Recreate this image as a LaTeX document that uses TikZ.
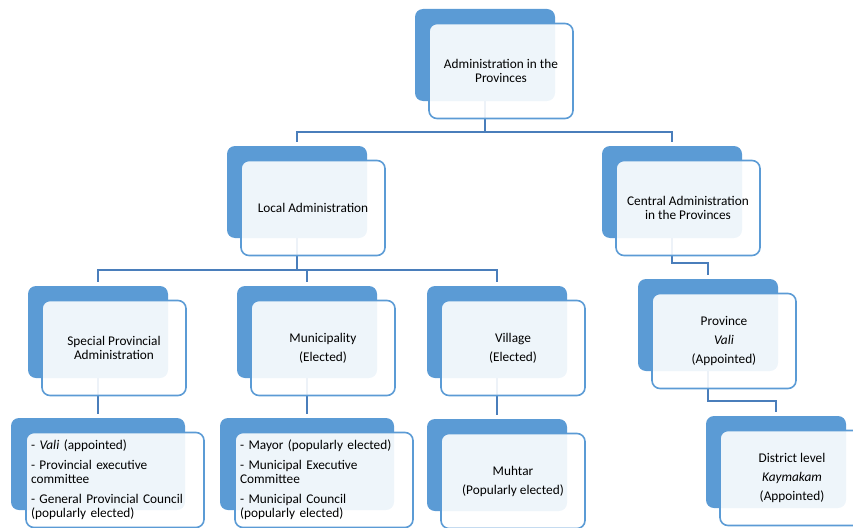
\documentclass[tikz,border=0pt]{standalone}
\usepackage{fontspec}
\setmainfont{Carlito}
\usetikzlibrary{backgrounds}
\definecolor{boxblue}{HTML}{5B9BD5}
\definecolor{linkblue}{HTML}{4A7EBB}
\begin{document}
\begin{tikzpicture}[x=1pt,y=-1pt,
  back/.style={fill=boxblue,rounded corners=8pt,minimum width=140pt,minimum height=92pt},
  front/.style={draw=boxblue,line width=1.6pt,fill=white,fill opacity=0.9,text opacity=1,
    rounded corners=8pt,minimum width=144pt,minimum height=95pt,align=center,
    font=\fontsize{13.3}{14}\selectfont},
  wide/.style={minimum width=174pt},
  widefront/.style={minimum width=178pt,text width=168pt,align=left},
  link/.style={draw=linkblue,line width=1.6pt,shorten >=4pt}]

\useasboundingbox (0,0) rectangle (853,527);

% top
\node[back] (adminB) at (485,55) {};
\node[front] (admin) at ([shift={(16,16)}]adminB) {Administration in the\\Provinces};

% second row
\node[back] (localB) at (297,192) {};
\node[front] (local) at ([shift={(16,16)}]localB) {Local Administration};
\node[back] (centralB) at (672,192) {};
\node[front] (central) at ([shift={(16,16)}]centralB) {Central Administration\\in the Provinces};

% third row
\node[back] (specialB) at (98,332) {};
\node[front] (special) at ([shift={(16,16)}]specialB) {Special Provincial\\Administration};
\node[back] (muniB) at (307,332) {};
\node[front] (muni) at ([shift={(16,16)}]muniB) {Municipality\\[5pt](Elected)};
\node[back] (villageB) at (497,332) {};
\node[front] (village) at ([shift={(16,16)}]villageB) {Village\\[5pt](Elected)};
\node[back] (provB) at (708,325) {};
\node[front] (prov) at ([shift={(16,16)}]provB) {Province\\[5pt]\textit{Vali}\\[5pt](Appointed)};

% bottom row
\node[back,wide] (councilB) at (98,464) {};
\node[front,widefront] (council) at ([shift={(17,16)}]councilB)
  {- \textit{Vali} (appointed)\\[6pt]- Provincial executive\\committee\\[6pt]- General Provincial Council\\(popularly elected)};
\node[back,wide] (mayorB) at (307,464) {};
\node[front,widefront] (mayor) at ([shift={(17,16)}]mayorB)
  {- Mayor (popularly elected)\\[6pt]- Municipal Executive\\Committee\\[6pt]- Municipal Council\\(popularly elected)};
\node[back] (muhtarB) at (497,465) {};
\node[front] (muhtar) at ([shift={(16,16)}]muhtarB) {Muhtar\\[5pt](Popularly elected)};
\node[back] (districtB) at (776,462) {};
\node[front] (district) at ([shift={(16,16)}]districtB) {District level\\[5pt]\textit{Kaymakam}\\[5pt](Appointed)};

\begin{scope}[on background layer]
\coordinate (fork1) at (485,132);
\coordinate (fork2) at (297,270);
\coordinate (fork3) at (672,263);
\coordinate (fork4) at (708,401);
\draw[link] (adminB) -- (fork1) -| (localB);
\draw[link] (fork1) -| (centralB);
\draw[link] (localB) -- (fork2) -| (specialB);
\draw[link] (fork2) -| (muniB);
\draw[link] (fork2) -| (villageB);
\draw[link] (centralB) -- (fork3) -| (provB);
\draw[link] (provB) -- (fork4) -| (districtB);
\draw[link] (specialB) -- (councilB);
\draw[link] (muniB) -- (mayorB);
\draw[link] (villageB) -- (muhtarB);
\end{scope}

\end{tikzpicture}
\end{document}
